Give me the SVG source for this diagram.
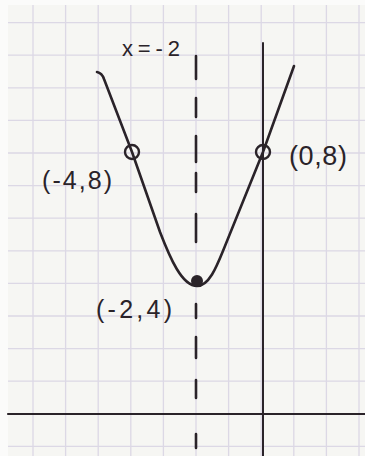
<svg xmlns="http://www.w3.org/2000/svg" width="365" height="456" viewBox="0 0 365 456">
<style>
.grid{stroke:#dcd8e5;stroke-width:1.3;fill:none}
.ink{stroke:#2a2329;fill:none;stroke-linecap:round;stroke-linejoin:round}
.lbl{font-family:"Liberation Sans",Arial,sans-serif;fill:#2a2329}
</style>
<rect width="365" height="456" fill="#fbfbfa"/>
<rect x="8" y="5" width="357" height="451" fill="#f6f6f3"/>
<g id="grid" class="grid">
<path d="M33,5V456M65.6,5V456M98.2,5V456M130.8,5V456M163.4,5V456M196,5V456M228.6,5V456M261.2,5V456M293.8,5V456M326.4,5V456M359,5V456"/>
<path d="M8,22.6H365M8,55.2H365M8,87.8H365M8,120.4H365M8,153H365M8,185.6H365M8,218.2H365M8,250.8H365M8,283.4H365M8,316H365M8,348.6H365M8,381.2H365M8,413.8H365M8,446.4H365"/>
</g>
<g id="axes" class="ink">
<line id="x-axis" x1="8" y1="414" x2="365" y2="414" stroke-width="2.2"/>
<line id="y-axis" x1="263" y1="43" x2="263" y2="456" stroke-width="2"/>
</g>
<g id="symmetry-line" class="ink">
<path d="M196,56V79M196,98V117M196,136V162M196,173V192M196,214V242M196,304V318M196,337V358M196,380V398M196,434V448" stroke-width="2.6"/>
</g>
<g id="parabola" class="ink">
<path d="M97,72Q102,73 104,79L132,152L160,232C170,258 182,286 197,286C210,286 218,263 225,246L263,152L294,66" stroke-width="2.6"/>
</g>
<g id="point-m4-8">
<circle class="ink" cx="132" cy="152" r="7" stroke-width="2.4"/>
<text class="lbl" x="42" y="189" font-size="25" textLength="70" lengthAdjust="spacing">(-4,8)</text>
</g>
<g id="point-0-8">
<circle class="ink" cx="263" cy="152" r="7" stroke-width="2.4"/>
<text class="lbl" x="289" y="165" font-size="27" textLength="58" lengthAdjust="spacing">(0,8)</text>
</g>
<g id="vertex">
<circle cx="197" cy="281" r="6" fill="#2a2329"/>
<text class="lbl" x="96" y="318" font-size="25" textLength="76" lengthAdjust="spacing">(-2,4)</text>
</g>
<g id="axis-label">
<text class="lbl" x="122" y="56" font-size="22" textLength="58" lengthAdjust="spacing">x=-2</text>
</g>
</svg>
